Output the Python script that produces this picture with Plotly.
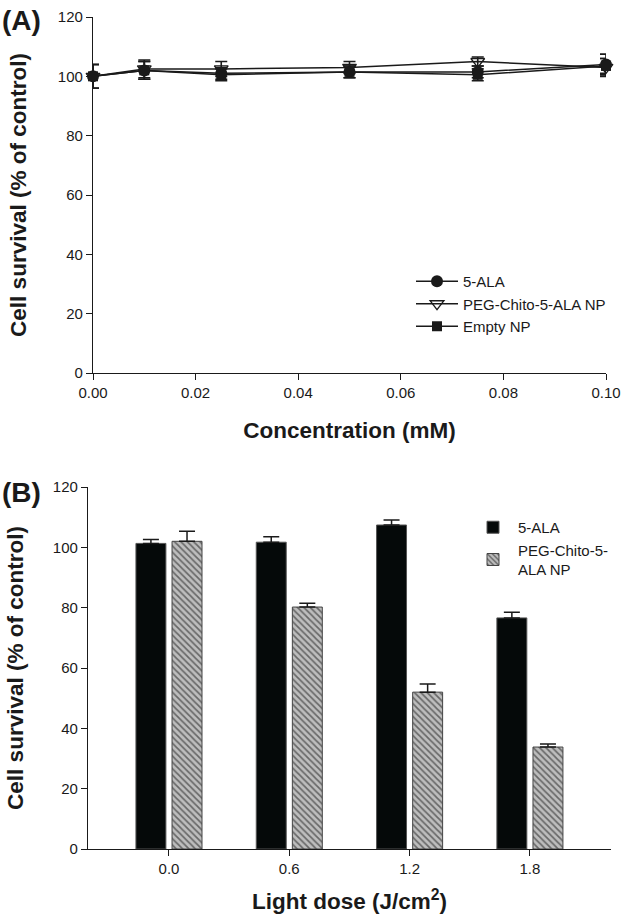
import plotly.graph_objects as go

W, H = 623, 916
FONT = "Liberation Sans, Arial, sans-serif"
TXT = "#1a1a1a"

# ---- Panel A data ----
conc = [0.0, 0.01, 0.025, 0.05, 0.075, 0.1]
ala_a = [100.0, 102.0, 101.0, 101.5, 101.5, 104.0]
ala_a_err = [4.0, 3.0, 2.0, 2.0, 2.0, 3.5]
peg_a = [100.0, 102.5, 102.5, 103.0, 105.0, 103.0]
peg_a_err = [4.0, 3.0, 2.5, 2.0, 1.5, 3.0]
empty_a = [100.0, 102.0, 100.5, 101.5, 100.5, 103.5]
empty_a_err = [4.0, 3.0, 2.0, 2.0, 2.0, 2.5]
conc_ticks = [0.0, 0.02, 0.04, 0.06, 0.08, 0.10]

# ---- Panel B data ----
dose = ["0.0", "0.6", "1.2", "1.8"]
ala_b = [101.3, 101.7, 107.4, 76.6]
ala_b_err = [1.3, 1.8, 1.7, 1.9]
peg_b = [102.0, 80.2, 52.0, 33.8]
peg_b_err = [3.3, 1.3, 2.7, 1.0]

surv_ticks = [0, 20, 40, 60, 80, 100, 120]


def px_x(p):
    return p / W


def px_y(p):
    return (H - p) / H


fig = go.Figure()

# Panel A traces
common_err = dict(type="data", color=TXT, thickness=1.6, width=6)
fig.add_trace(go.Scatter(
    x=conc, y=ala_a, name="5-ALA", mode="lines+markers",
    line=dict(color=TXT, width=1.5),
    marker=dict(symbol="circle", size=12, color=TXT),
    error_y=dict(array=ala_a_err, **common_err),
    cliponaxis=False, xaxis="x", yaxis="y", legend="legend"))
fig.add_trace(go.Scatter(
    x=conc, y=peg_a, name="PEG-Chito-5-ALA NP", mode="lines+markers",
    line=dict(color=TXT, width=1.5),
    marker=dict(symbol="triangle-down-open", size=12, color=TXT, line=dict(width=1.3)),
    error_y=dict(array=peg_a_err, **common_err),
    cliponaxis=False, xaxis="x", yaxis="y", legend="legend"))
fig.add_trace(go.Scatter(
    x=conc, y=empty_a, name="Empty NP", mode="lines+markers",
    line=dict(color=TXT, width=1.5),
    marker=dict(symbol="square", size=10, color=TXT),
    error_y=dict(array=empty_a_err, **common_err),
    cliponaxis=False, xaxis="x", yaxis="y", legend="legend"))

# Panel B traces
bar_err = dict(type="data", symmetric=False, color=TXT, thickness=1.5, width=8)
fig.add_trace(go.Bar(
    x=dose, y=ala_b, name="5-ALA",
    marker=dict(color="#050909", line=dict(color="#555555", width=1)),
    error_y=dict(array=ala_b_err, arrayminus=[0] * len(dose), **bar_err),
    xaxis="x2", yaxis="y2", legend="legend2"))
fig.add_trace(go.Bar(
    x=dose, y=peg_b, name="PEG-Chito-5-<br>ALA NP",
    marker=dict(color="#bdbdbd", line=dict(color="#444444", width=1),
                pattern=dict(shape="\\", fgcolor="#111111", bgcolor="#bdbdbd",
                             size=4.5, solidity=0.38)),
    error_y=dict(array=peg_b_err, arrayminus=[0] * len(dose), **bar_err),
    xaxis="x2", yaxis="y2", legend="legend2"))

axis_common = dict(showline=True, linecolor=TXT, linewidth=1.3, ticks="outside",
                   ticklen=6, tickwidth=1.3, tickcolor=TXT, showgrid=False,
                   zeroline=False, automargin=False,
                   tickfont=dict(family=FONT, size=15, color=TXT))
title_font = dict(family=FONT, size=22.5, color=TXT)

fig.update_layout(
    width=W, height=H,
    margin=dict(l=0, r=0, t=0, b=0, autoexpand=False),
    paper_bgcolor="white", plot_bgcolor="white",
    font=dict(family=FONT, color=TXT),
    barmode="group", bargap=0.4, bargroupgap=0.17,
    xaxis=dict(domain=[px_x(93), px_x(606)], range=[0, 0.1], tickvals=conc_ticks,
               tickformat=".2f", anchor="y",
               title=dict(text="<b>Concentration (mM)</b>", font=title_font, standoff=22),
               **axis_common),
    yaxis=dict(domain=[px_y(373), px_y(17)], range=[0, 120], tickvals=surv_ticks,
               anchor="x",
               title=dict(text="<b>Cell survival (% of control)</b>", font=title_font, standoff=24),
               **axis_common),
    xaxis2=dict(domain=[px_x(88), px_x(611)], range=[-0.673, 3.674], type="category",
                anchor="y2",
                title=dict(text="<b>Light dose (J/cm<sup>2</sup>)</b>", font=title_font, standoff=17),
                **axis_common),
    yaxis2=dict(domain=[px_y(849), px_y(487)], range=[0, 120], tickvals=surv_ticks,
                anchor="x2",
                title=dict(text="<b>Cell survival (% of control)</b>", font=title_font, standoff=22),
                **axis_common),
    legend=dict(x=px_x(411), y=px_y(265), xanchor="left", yanchor="top",
                bgcolor="rgba(0,0,0,0)", font=dict(family=FONT, size=15, color=TXT),
                itemwidth=42, tracegroupgap=0),
    legend2=dict(x=px_x(468), y=px_y(511), xanchor="left", yanchor="top",
                 bgcolor="rgba(0,0,0,0)", font=dict(family=FONT, size=15, color=TXT),
                 itemwidth=40, tracegroupgap=0),
    annotations=[
        dict(text="<b>(A)</b>", x=0, y=px_y(3), xref="paper", yref="paper",
             xanchor="left", yanchor="top", showarrow=False,
             font=dict(family=FONT, size=28, color=TXT)),
        dict(text="<b>(B)</b>", x=0, y=px_y(475), xref="paper", yref="paper",
             xanchor="left", yanchor="top", showarrow=False,
             font=dict(family=FONT, size=28, color=TXT)),
    ],
)

# Remove the browser's default 8px page margin so the figure sits at (0, 0)
fig.write_html("out.html", config={"displayModeBar": False},
               post_script="document.body.style.margin='0px';")
